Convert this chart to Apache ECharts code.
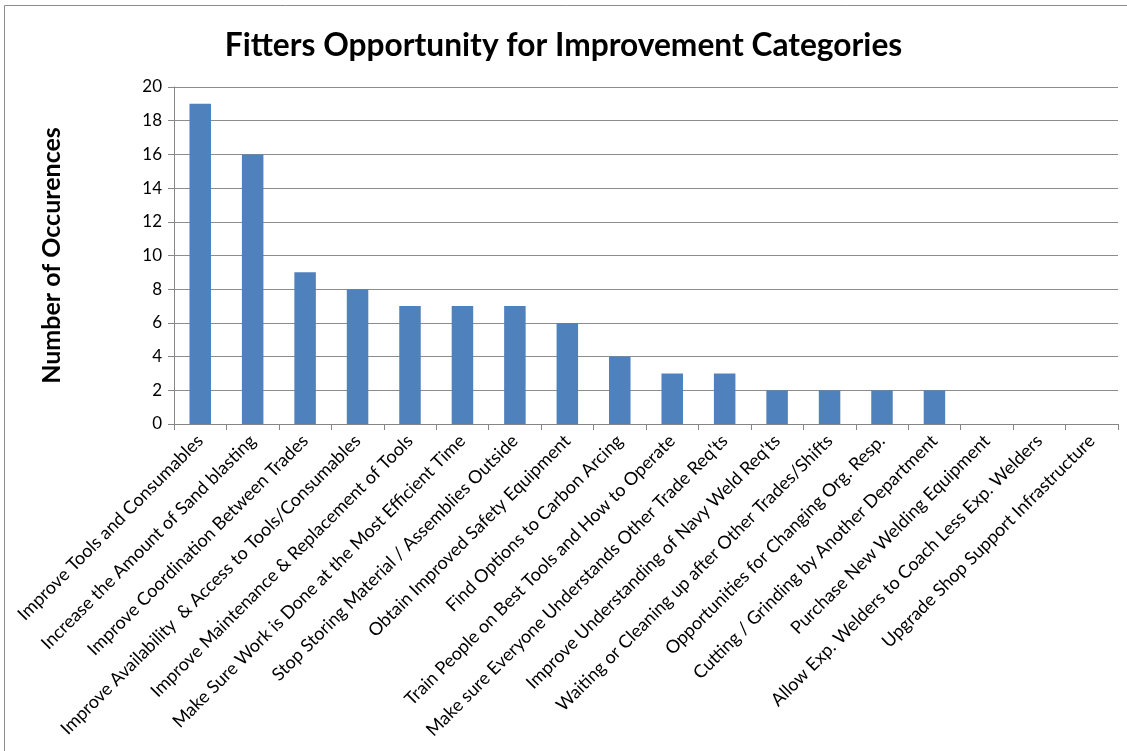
<!DOCTYPE html>
<html>
<head>
<meta charset="utf-8">
<script src="https://cdn.jsdelivr.net/npm/echarts@6/dist/echarts.min.js"></script>
<style>
html,body{margin:0;padding:0;background:#fff;}
#chart{width:1127px;height:751px;}
</style>
</head>
<body>
<div id="chart"></div>
<script>
const categories = [
  "Improve Tools and Consumables",
  "Increase the Amount of Sand blasting",
  "Improve Coordination Between Trades",
  "Improve Availability  & Access to Tools/Consumables",
  "Improve Maintenance & Replacement of Tools",
  "Make Sure Work is Done at the Most Efficient Time",
  "Stop Storing Material / Assemblies Outside",
  "Obtain Improved Safety Equipment",
  "Find Options to Carbon Arcing",
  "Train People on Best Tools and How to Operate",
  "Make sure Everyone Understands Other Trade Req'ts",
  "Improve Understanding of Navy Weld Req'ts",
  "Waiting or Cleaning up after Other Trades/Shifts",
  "Opportunities for Changing Org. Resp.",
  "Cutting / Grinding by Another Department",
  "Purchase New Welding Equipment",
  "Allow Exp. Welders to Coach Less Exp. Welders",
  "Upgrade Shop Support Infrastructure"
];
const occurrences = [19, 16, 9, 8, 7, 7, 7, 6, 4, 3, 3, 2, 2, 2, 2, 0, 0, 0];
const yTicks = {min: 0, max: 20, interval: 2};

const chart = echarts.init(document.getElementById('chart'), null, {renderer: 'canvas'});
const FONT = 'Lato';
chart.setOption({
  animation: false,
  backgroundColor: '#fff',
  graphic: [{
    type: 'rect',
    shape: {x: 4.5, y: 5.5, width: 1140, height: 760},
    style: {fill: 'none', stroke: '#8c8c8c', lineWidth: 1}
  }],
  title: {
    text: 'Fitters Opportunity for Improvement Categories',
    left: 'center',
    top: 25,
    textStyle: {fontFamily: FONT, fontSize: 31.7, fontWeight: 'bold', color: '#000'}
  },
  grid: {left: 174, right: 9, top: 87, bottom: 327, containLabel: false},
  xAxis: {
    type: 'category',
    data: categories,
    axisLine: {lineStyle: {color: '#868686', width: 1}},
    axisTick: {show: true, length: 6, lineStyle: {color: '#868686'}},
    axisLabel: {
      interval: 0, rotate: 45, margin: 14,
      fontFamily: FONT, fontSize: 18, color: '#000'
    },
    splitLine: {show: false}
  },
  yAxis: {
    type: 'value',
    min: yTicks.min, max: yTicks.max, interval: yTicks.interval,
    name: 'Number of Occurences',
    nameLocation: 'middle',
    nameGap: 110,
    nameRotate: 90,
    nameTextStyle: {fontFamily: FONT, fontSize: 25, fontWeight: 'bold', color: '#000'},
    axisLine: {show: true, lineStyle: {color: '#868686', width: 1}},
    axisTick: {show: true, length: 6, inside: false, lineStyle: {color: '#868686'}},
    axisLabel: {fontFamily: FONT, fontSize: 17, color: '#000', margin: 12},
    splitLine: {show: true, lineStyle: {color: '#8c8c8c', width: 1}}
  },
  series: [{
    type: 'bar',
    data: occurrences,
    barCategoryGap: '59%',
    itemStyle: {color: '#4F81BD'}
  }]
});
</script>
</body>
</html>
